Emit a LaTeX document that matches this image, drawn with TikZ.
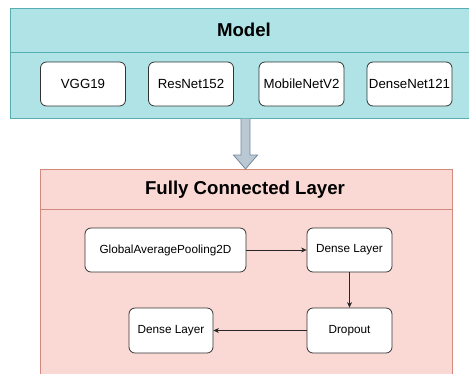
\documentclass[tikz,border=0pt]{standalone}
\usepackage{fontspec}
\setmainfont{Liberation Sans}
\usetikzlibrary{arrows.meta,positioning}
\definecolor{tealfill}{HTML}{B0E3E6}
\definecolor{tealline}{HTML}{56AEB3}
\definecolor{redfill}{HTML}{FAD9D5}
\definecolor{redline}{HTML}{D4897E}
\definecolor{arrfill}{HTML}{BAC8D3}
\definecolor{arrline}{HTML}{75879A}
\definecolor{boxline}{HTML}{333333}
\tikzset{
  container/.style={draw=#1, line width=0.9bp, inner sep=0pt, anchor=north west},
  netbox/.style={draw=boxline, fill=white, rounded corners=6bp, line width=0.8bp,
    inner sep=0pt, minimum width=85bp, minimum height=44bp, font=\fontsize{13.3}{15}\selectfont},
  layerbox/.style={draw=boxline, fill=white, rounded corners=6bp, line width=0.8bp,
    inner sep=0pt, minimum width=85bp, minimum height=44bp, font=\fontsize{11.8}{14}\selectfont},
  title/.style={font=\bfseries\fontsize{18.7}{22}\selectfont, inner sep=0pt},
  flow/.style={draw=black!85, line width=0.7bp, -{Stealth[length=5.5bp,width=5bp]}}
}
\begin{document}
\begin{tikzpicture}[x=1bp,y=-1bp]
\useasboundingbox (0,0) rectangle (469,373);
\clip (0,0) rectangle (469,373);
% Model container
\node[container=tealline, fill=tealfill, minimum width=470bp, minimum height=110bp] (model) at (10,8) {};
\draw[tealline, line width=0.9bp] (10,52) -- (480,52);
\node[title] (modeltitle) at (244,30) {Model};
\node[netbox] (vgg) at (83,84) {VGG19};
\node[netbox] (resnet) at (191,84) {ResNet152};
\node[netbox] (mobile) at (301.5,84) {MobileNetV2};
\node[netbox] (dense121) at (409.5,84) {DenseNet121};
% Fully connected container
\node[container=redline, fill=redfill, minimum width=412bp, minimum height=215bp] (fc) at (40,169) {};
\draw[redline, line width=0.9bp] (40,209) -- (452,209);
\node[title] (fctitle) at (245,190) {Fully Connected Layer};
% block arrow between containers
\coordinate (atop) at (245.5,118.5);
\coordinate (atip) at (245.5,169);
\draw[arrline, fill=arrfill, line width=0.8bp, line join=miter]
  ([xshift=-4.5bp]atop) -- ([xshift=-4.5bp,yshift=14bp]atip) -- ([xshift=-12bp,yshift=14bp]atip)
  -- (atip) -- ([xshift=12bp,yshift=14bp]atip) -- ([xshift=4.5bp,yshift=14bp]atip)
  -- ([xshift=4.5bp]atop);
% layers
\node[layerbox, minimum width=161bp] (gap) at (165.5,250) {GlobalAveragePooling2D};
\node[layerbox] (d1) at (349.5,250) {Dense Layer};
\node[layerbox, minimum height=45bp] (drop) at (349.5,330.5) {Dropout};
\node[layerbox, minimum width=84bp, minimum height=45bp] (d2) at (171,330.5) {Dense Layer};
\draw[flow] (gap) -- (d1);
\draw[flow] (d1) -- (drop);
\draw[flow] (drop) -- (d2);
\end{tikzpicture}
\end{document}
